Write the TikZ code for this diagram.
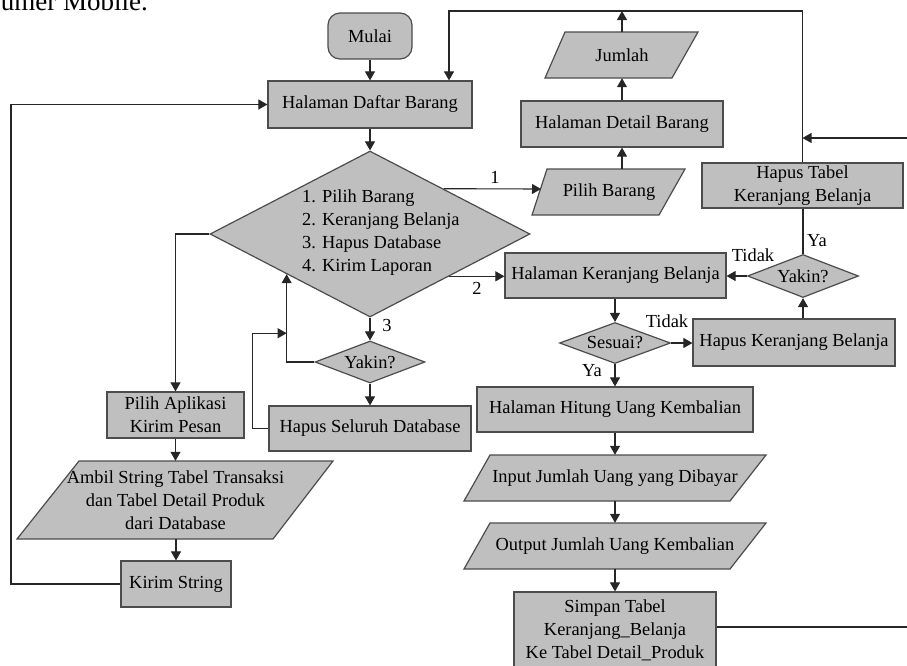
\documentclass[tikz,border=0pt]{standalone}
\usepackage{fontspec}
\setmainfont{Liberation Serif}
\usetikzlibrary{arrows.meta,shapes.geometric,calc}
\newcommand{\diafont}{\fontsize{18.4}{23}\selectfont}
\begin{document}
\begin{tikzpicture}[x=1pt,y=-1pt,
  shp/.style={draw=black!70, fill=black!25, line width=1.2pt},
  box/.style={shp, rectangle, inner sep=0pt, align=center, font=\diafont},
  dia/.style={shp, diamond, inner sep=0pt, aspect=2.6, font=\diafont},
  txt/.style={inner sep=0pt, align=center, font=\diafont},
  lbl/.style={inner sep=0pt, font=\diafont},
  conn/.style={line width=1.1pt, draw=black!85},
  arr/.style={conn, -{Triangle[length=9pt,width=10pt]}}
]
\useasboundingbox (0,0) rectangle (907,665);
\clip (0,0) rectangle (907,665);

% caption fragment cut at top
\node[font=\fontsize{27}{31}\selectfont, anchor=base east, inner sep=0pt] (cap) at (148,10) {Konsumer Mobile.};

% ---------- shapes ----------
\node[box, rounded corners=12pt, minimum width=84pt, minimum height=46pt] (mulai) at (370,36) {Mulai};
\node[box, minimum width=204pt, minimum height=47pt] (hdbar) at (370,104.5) {Halaman Daftar Barang};
\node[dia, minimum width=320pt, minimum height=166pt] (d1) at (370,234) {};
\node[txt, align=left, anchor=west] (d1t) at (302,233) {1. Pilih Barang\\2. Keranjang Belanja\\3. Hapus Database\\4. Kirim Laporan};

% Jumlah
\draw[shp] (565,32) -- (698,32) -- (672,78) -- (545,78) -- cycle;
\node[txt, minimum height=46pt] (jml) at (622,55) {Jumlah};
\node[box, minimum width=202pt, minimum height=46pt] (hdet) at (622,124) {Halaman Detail Barang};
% Pilih Barang
\draw[shp] (547,169) -- (685,169) -- (659,215) -- (532,215) -- cycle;
\node[txt, minimum height=46pt] (pb) at (609,192) {Pilih Barang};
\coordinate (pbl) at (541,189);

\node[box, minimum width=201pt, minimum height=45pt] (htkb) at (802.5,185.5) {Hapus Tabel\\Keranjang Belanja};
\node[dia, minimum width=111pt, minimum height=43pt] (yk2) at (803,276) {Yakin?};
\node[box, minimum width=221pt, minimum height=45pt] (hkb) at (615.5,275.5) {Halaman Keranjang Belanja};
\node[dia, minimum width=111pt, minimum height=41pt] (ses) at (615,343) {Sesuai?};
\node[box, minimum width=202pt, minimum height=47pt] (hpk) at (794,342.5) {Hapus Keranjang Belanja};
\node[box, minimum width=276pt, minimum height=45pt] (hhuk) at (615,409.5) {Halaman Hitung Uang Kembalian};
% Input
\draw[shp] (490,455) -- (766,455) -- (730,501) -- (464,501) -- cycle;
\node[txt, minimum height=46pt] (inp) at (615,478) {Input Jumlah Uang yang Dibayar};
% Output
\draw[shp] (490,523) -- (766,523) -- (730,569) -- (464,569) -- cycle;
\node[txt, minimum height=46pt] (outp) at (615,546) {Output Jumlah Uang Kembalian};
\node[box, minimum width=202pt, minimum height=76pt] (simpan) at (615,630) {Simpan Tabel\\Keranjang\_Belanja\\Ke Tabel Detail\_Produk};

\node[dia, minimum width=110pt, minimum height=42pt] (yk1) at (370,362) {Yakin?};
\node[box, minimum width=202pt, minimum height=45pt] (hsd) at (370,428.5) {Hapus Seluruh Database};
\node[box, minimum width=137pt, minimum height=46pt] (pakp) at (175.5,415) {Pilih Aplikasi\\Kirim Pesan};
% Ambil
\draw[shp] (79,461) -- (333,461) -- (273,539) -- (17,539) -- cycle;
\node[txt, minimum height=78pt] (amb) at (175.5,500) {Ambil String Tabel Transaksi\\dan Tabel Detail Produk\\dari Database};
\node[box, minimum width=110pt, minimum height=46pt] (ks) at (176,584) {Kirim String};

% ---------- connectors ----------
\draw[arr] (mulai.south) -- (hdbar.north);
\coordinate (tl) at (449,11);
\draw[arr] (htkb.north) |- (tl) -- (tl |- hdbar.north);
\draw[arr] (jml.north) -- (jml.north |- tl);
\draw[arr] (hdbar.south) -- (d1.north);
\coordinate (p1) at ($(d1.north)!0.458!(d1.east)$);
\draw[arr] (p1) -- (pbl);
\draw[arr] (hdet.south |- pb.north) -- (hdet.south);
\draw[arr] (hdet.north) -- (hdet.north |- jml.south);
\coordinate (p2) at ($(d1.east)!0.506!(d1.south)$);
\draw[arr] (p2) -- (p2 -| hkb.west);
\draw[arr] (d1.west) -| (pakp.north);
\draw[arr] (d1.south) -- (yk1.north);
\coordinate (p3) at ($(d1.west)!0.481!(d1.south)$);
\draw[arr] (yk1.west) -| (p3);
\draw[arr] (yk1.south) -- (hsd.north);
\draw[arr] (hsd.west) -- ++(-16,0) |- ($(p3)+(0,59)$);
\draw[arr] (pakp.south) -- (pakp.south |- amb.north);
\draw[arr] (ks.north |- amb.south) -- (ks.north);
\coordinate (lft) at (11,300);
\draw[arr] (ks.west) -| (lft) |- (hdbar.west);
\draw[arr] (ses.north |- hkb.south) -- (ses.north);
\draw[arr] (ses.east) -- (ses.east -| hpk.west);
\draw[arr] (ses.south) -- (hhuk.north);
\draw[arr] (hhuk.south) -- (inp.north);
\draw[arr] (inp.south) -- (outp.north);
\draw[arr] (outp.south) -- (simpan.north);
\draw[arr] (yk2.south |- hpk.north) -- (yk2.south);
\draw[arr] (yk2.west) -- (yk2.west -| hkb.east);
\draw[conn] (yk2.north) -- (yk2.north |- htkb.south);
\coordinate (rj) at (940,138);
\draw[arr] ([yshift=3pt]simpan.east) -| (rj) -- (rj -| htkb.north);

% ---------- labels ----------
\node[lbl] (l1) at (495,177) {1};
\node[lbl] (l2) at (477,288) {2};
\node[lbl] (l3) at (387,325) {3};
\node[lbl] (lt1) at (753,255) {Tidak};
\node[lbl] (ly1) at (817,241) {Ya};
\node[lbl] (lt2) at (667,321) {Tidak};
\node[lbl] (ly2) at (592,371) {Ya};
\end{tikzpicture}
\end{document}
